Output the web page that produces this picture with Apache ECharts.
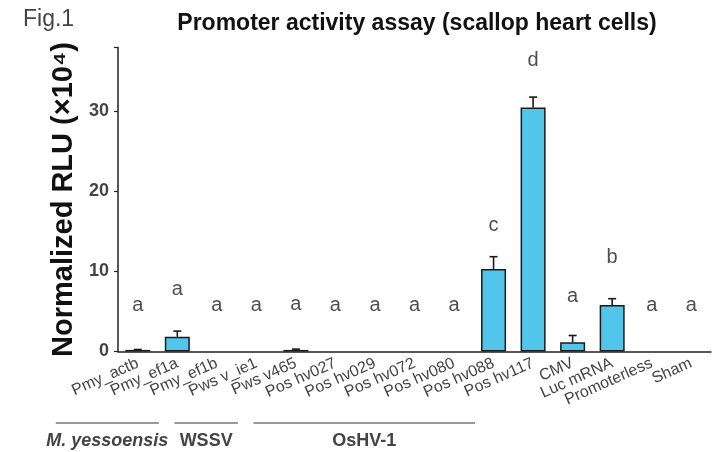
<!DOCTYPE html>
<html><head><meta charset="utf-8">
<script src="https://cdn.jsdelivr.net/npm/echarts@6/dist/echarts.min.js"></script>
<style>html,body{margin:0;padding:0;background:#fff}#c{width:721px;height:452px}</style>
</head><body><div id="c"></div>
<script>
var categories = ["Pmy_actb","Pmy_ef1a","Pmy_ef1b","Pws v_ie1","Pws v465","Pos hv027","Pos hv029","Pos hv072","Pos hv080","Pos hv088","Pos hv117","CMV","Luc mRNA","Promoterless","Sham"];
var values = [0.2, 1.85, 0, 0, 0.2, 0, 0, 0, 0, 10.3, 30.5, 1.15, 5.8, 0, 0];
var errors = [0.05, 0.7, 0, 0, 0.1, 0, 0, 0, 0, 1.55, 1.3, 0.85, 0.8, 0, 0];
var letters = ["a","a","a","a","a","a","a","a","a","c","d","a","b","a","a"];
var letterY = [5.8, 7.7, 5.8, 5.8, 5.9, 5.8, 5.8, 5.8, 5.8, 15.8, 36.4, 6.9, 11.8, 5.8, 5.8];
var yTicks = [0, 10, 20, 30];
var groups = [
  {name: "M. yessoensis", from: 0, to: 2, italic: true},
  {name: "WSSV", from: 3, to: 4, italic: false},
  {name: "OsHV-1", from: 5, to: 10, italic: false}
];

var chart = echarts.init(document.getElementById('c'));
var FONT = '"Liberation Sans", Arial, sans-serif';
var option = {
  animation: false,
  title: [
    {text: 'Fig.1', left: 18, top: 3, textStyle: {fontFamily: FONT, fontSize: 23, fontWeight: 'normal', color: '#444'}},
    {text: 'Promoter activity assay (scallop heart cells)', left: 412, textAlign: 'center', top: 7,
     textStyle: {fontFamily: FONT, fontSize: 23, fontWeight: 'bold', color: '#111'}}
  ],
  grid: {left: 118, right: 10, top: 47.5, bottom: 100.5},
  xAxis: {
    type: 'category', data: categories,
    axisLine: {lineStyle: {color: '#222', width: 1.5}},
    axisTick: {alignWithLabel: true, length: 5, lineStyle: {color: '#222', width: 1.2}},
    axisLabel: {rotate: 24, interval: 0, margin: 11, fontFamily: FONT, fontSize: 16, color: '#444'}
  },
  yAxis: {
    type: 'value', min: 0, max: 38, interval: 10,
    name: 'Normalized RLU (×10⁴)', nameLocation: 'middle', nameGap: 27, nameRotate: 90,
    nameTextStyle: {fontFamily: FONT, fontSize: 29, fontWeight: 'bold', color: '#111'},
    axisLine: {show: true, lineStyle: {color: '#222', width: 1.5}},
    axisTick: {show: true, length: 4, lineStyle: {color: '#222', width: 1.2}},
    splitLine: {show: false},
    axisLabel: {fontFamily: FONT, fontSize: 18, fontWeight: 'bold', color: '#444', margin: 9,
      formatter: function (v) { return yTicks.indexOf(v) >= 0 ? String(v) : ''; }}
  },
  series: [
    {
      type: 'bar', data: values.map(function (v) { return v === 0 ? null : v; }), barWidth: 25,
      itemStyle: {color: '#52C5EA', borderColor: '#1a1a1a', borderWidth: 1.5}
    },
    {
      type: 'custom', z: 3,
      data: values.map(function (v, i) { return [i, v, v + errors[i]]; }),
      renderItem: function (params, api) {
        if (api.value(2) - api.value(1) <= 0) return null;
        var lo = api.coord([api.value(0), api.value(1)]);
        var hi = api.coord([api.value(0), api.value(2)]);
        var cw = 4;
        return {type: 'group', children: [
          {type: 'line', shape: {x1: lo[0], y1: lo[1], x2: hi[0], y2: hi[1]}, style: {stroke: '#1a1a1a', lineWidth: 1.6}},
          {type: 'line', shape: {x1: hi[0] - cw, y1: hi[1], x2: hi[0] + cw, y2: hi[1]}, style: {stroke: '#1a1a1a', lineWidth: 1.6}}
        ]};
      }
    },
    {
      type: 'scatter', symbolSize: 0, z: 4,
      data: letterY.map(function (v, i) { return [i, v]; }),
      label: {show: true, position: 'inside', fontFamily: FONT, fontSize: 20, color: '#222',
        formatter: function (p) { return letters[p.dataIndex]; }}
    }
  ]
};
chart.setOption(option);

var gfx = [];
groups.forEach(function (g) {
  var x1 = chart.convertToPixel({xAxisIndex: 0}, g.from) - 82;
  var x2 = chart.convertToPixel({xAxisIndex: 0}, g.to) - 58;
  gfx.push({type: 'line', shape: {x1: x1, y1: 423, x2: x2, y2: 423}, style: {stroke: '#777', lineWidth: 1.5}});
  gfx.push({type: 'text', x: (x1 + x2) / 2, y: 441, style: {text: g.name, fill: '#444', align: 'center', verticalAlign: 'middle',
    font: (g.italic ? 'italic ' : '') + 'bold 18px ' + FONT}});
});
chart.setOption({graphic: gfx});
</script></body></html>
